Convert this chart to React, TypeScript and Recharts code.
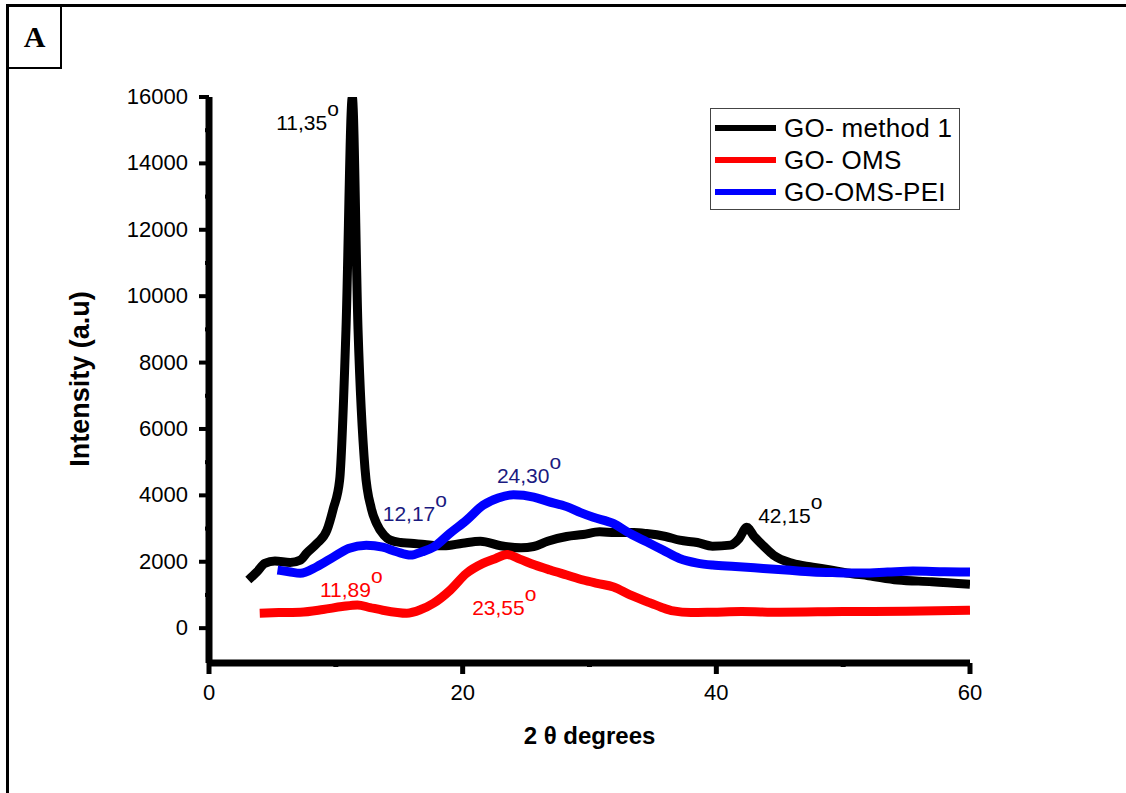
import React from 'react';
import { LineChart, Line, XAxis, YAxis, ReferenceDot } from 'recharts';

// [2theta, intensity]
const goMethod1 = [
  [3.1, 1450], [3.8, 1700], [4.4, 1950], [5.2, 2020], [6.4, 1980], [7.2, 2050], [7.7, 2260],
  [8.5, 2550], [9.3, 2950], [9.8, 3600], [10.3, 4460], [10.8, 9000], [11.3, 16000], [11.75, 9000],
  [12.3, 4800], [12.8, 3600], [13.2, 3160], [13.8, 2800], [14.3, 2650], [15.1, 2580], [15.9, 2560],
  [17, 2520], [18.5, 2480], [20, 2560], [21.4, 2620], [23, 2480], [24.6, 2420], [25.6, 2460],
  [26.7, 2620], [28.2, 2760], [29.5, 2820], [30.8, 2900], [32, 2880], [33.5, 2880], [34.5, 2850],
  [36, 2760], [37.1, 2650], [38.5, 2580], [39.7, 2470], [41.1, 2500], [41.8, 2700], [42.4, 3040],
  [43, 2750], [43.5, 2560], [44.5, 2200], [46, 1950], [47.6, 1840], [49, 1750], [50.3, 1660],
  [52, 1580], [54.3, 1450], [57, 1400], [60, 1320],
];

const goOms = [
  [4, 450], [5.5, 470], [7.2, 480], [9, 560], [10.5, 650], [11.7, 700], [12.7, 620], [13.7, 540],
  [15.6, 450], [16.7, 560], [17.7, 750], [19, 1140], [20.3, 1650], [21.6, 1950], [22.6, 2100],
  [23.5, 2220], [24.5, 2080], [25.7, 1900], [26.9, 1750], [28.2, 1600], [29.5, 1450], [30.6, 1350],
  [31.9, 1240], [33.2, 1000], [34.5, 800], [35.6, 640], [36.6, 520], [38, 470], [39.7, 480],
  [42, 500], [45, 480], [50, 500], [55, 510], [60, 540],
];

const goOmsPei = [
  [5.4, 1750], [6.3, 1700], [7.2, 1650], [8.5, 1850], [9.8, 2140], [11, 2400], [12.4, 2500],
  [13.7, 2440], [14.8, 2300], [15.9, 2200], [16.8, 2300], [17.7, 2440], [19, 2860], [20.3, 3250],
  [21.6, 3700], [22.8, 3920], [24, 4020], [25.6, 3950], [26.7, 3820], [28.2, 3660], [29.3, 3480],
  [30.3, 3340], [31.9, 3150], [33.2, 2850], [34.5, 2600], [35.8, 2350], [37.1, 2100], [38.5, 1960],
  [39.7, 1900], [41.5, 1860], [43.7, 1800], [45.5, 1750], [47.6, 1690], [49.5, 1670], [51.6, 1660],
  [53.5, 1690], [55.5, 1720], [58, 1700], [60, 1690],
];

const seriesNames = ['GO- method 1', 'GO- OMS', 'GO-OMS-PEI'];
const seriesColors = ['#000000', '#ff0000', '#0000ff'];

const xTicks = [0, 10, 20, 30, 40, 50, 60];
const yTicks = [0, 1000, 2000, 3000, 4000, 5000, 6000, 7000, 8000, 9000, 10000, 11000, 12000, 13000, 14000, 15000, 16000];

// peak annotations: [x, y, text, colour]
const peakLabels: [number, number, string, string][] = [
  [5.3, 15000, '11,35', '#000000'],
  [13.7, 3220, '12,17', '#1a1a80'],
  [22.7, 4370, '24,30', '#1a1a80'],
  [43.3, 3160, '42,15', '#000000'],
  [8.75, 930, '11,89', '#ff0000'],
  [20.75, 390, '23,55', '#ff0000'],
];

const FONT = 'Arial, "Liberation Sans", sans-serif';

const toRows = (pts: number[][]) => pts.map(([x, y]) => ({ x, y }));

const YTick = (props: any) => {
  const { x, y, payload } = props;
  const major = payload.value % 2000 === 0;
  return (
    <g>
      <line x1={x - (major ? 10 : 4)} x2={x} y1={y} y2={y} stroke="#000" strokeWidth={4} />
      {major && (
        <text x={x - 21} y={y + 7} textAnchor="end" fontSize={22} fontFamily={FONT} fill="#000">
          {payload.value}
        </text>
      )}
    </g>
  );
};

const XTick = (props: any) => {
  const { x, y, payload } = props;
  const major = payload.value % 20 === 0;
  return (
    <g>
      <line x1={x} x2={x} y1={y} y2={y + (major ? 11 : 4)} stroke="#000" strokeWidth={5} />
      {major && (
        <text x={x} y={y + 37} textAnchor="middle" fontSize={22} fontFamily={FONT} fill="#000">
          {payload.value}
        </text>
      )}
    </g>
  );
};

const makeLabel = (text: string, color: string) => (props: any) => (
  <text x={props.cx} y={props.cy} fontSize={21} fontFamily={FONT} fill={color}>
    {text}
    <tspan dy={-14}>o</tspan>
  </text>
);

export default function App() {
  const data = [goMethod1, goOms, goOmsPei].map(toRows);
  return (
    <div style={{ position: 'absolute', left: 0, top: 0, width: 1126, height: 793, background: '#fff', overflow: 'hidden' }}>
      {/* outer frame */}
      <div style={{ position: 'absolute', left: 6, top: 4, width: 1130, height: 800, borderTop: '3px solid #000', borderLeft: '3px solid #000' }} />
      <div
        style={{
          position: 'absolute', left: 7, top: 5, width: 51, height: 60, border: '2px solid #000',
          fontFamily: '"Liberation Serif", "Times New Roman", serif', fontWeight: 'bold', fontSize: 30,
          display: 'flex', alignItems: 'center', justifyContent: 'center', boxSizing: 'content-box',
        }}
      >
        A
      </div>

      <LineChart
        width={1126}
        height={793}
        margin={{ top: 97, right: 156, bottom: 100, left: 149 }}
        style={{ position: 'absolute', left: 0, top: 0 }}
      >
        <XAxis
          type="number"
          dataKey="x"
          domain={[0, 60]}
          ticks={xTicks}
          height={30}
          tickSize={0}
          tickMargin={0}
          tick={<XTick />}
          axisLine={{ stroke: '#000', strokeWidth: 7 }}
          allowDataOverflow
          label={{ value: '2 θ degrees', position: 'bottom', offset: 34, fontSize: 24, fontWeight: 'bold', fontFamily: FONT, fill: '#000' }}
        />
        <YAxis
          type="number"
          domain={[-1050, 16000]}
          ticks={yTicks}
          width={60}
          tickSize={0}
          tickMargin={0}
          tick={<YTick />}
          axisLine={{ stroke: '#000', strokeWidth: 7 }}
          allowDataOverflow
        />
        {data.map((rows, i) => (
          <Line
            key={seriesNames[i]}
            data={rows}
            dataKey="y"
            name={seriesNames[i]}
            type="monotone"
            stroke={seriesColors[i]}
            strokeWidth={9}
            strokeLinejoin="round"
            dot={false}
            isAnimationActive={false}
          />
        ))}
        {peakLabels.map(([x, y, text, color]) => (
          <ReferenceDot key={text} x={x} y={y} r={0} shape={makeLabel(text, color)} />
        ))}
      </LineChart>

      {/* y axis title */}
      <div
        style={{
          position: 'absolute', left: -70, top: 364, width: 300, height: 30, lineHeight: '30px',
          textAlign: 'center', transform: 'rotate(-90deg)', fontFamily: FONT, fontWeight: 'bold', fontSize: 27,
        }}
      >
        Intensity (a.u)
      </div>

      {/* legend */}
      <div
        style={{
          position: 'absolute', left: 710, top: 108, width: 250, height: 102, border: '1px solid #444',
          background: '#fff', fontFamily: FONT, fontSize: 26, boxSizing: 'border-box', paddingTop: 3,
        }}
      >
        {seriesNames.map((name, i) => (
          <div key={name} style={{ display: 'flex', alignItems: 'center', height: 32 }}>
            <div style={{ width: 61, height: 6, background: seriesColors[i], marginLeft: 4, marginRight: 8 }} />
            <span style={{ letterSpacing: 0.3 }}>{name}</span>
          </div>
        ))}
      </div>
    </div>
  );
}
